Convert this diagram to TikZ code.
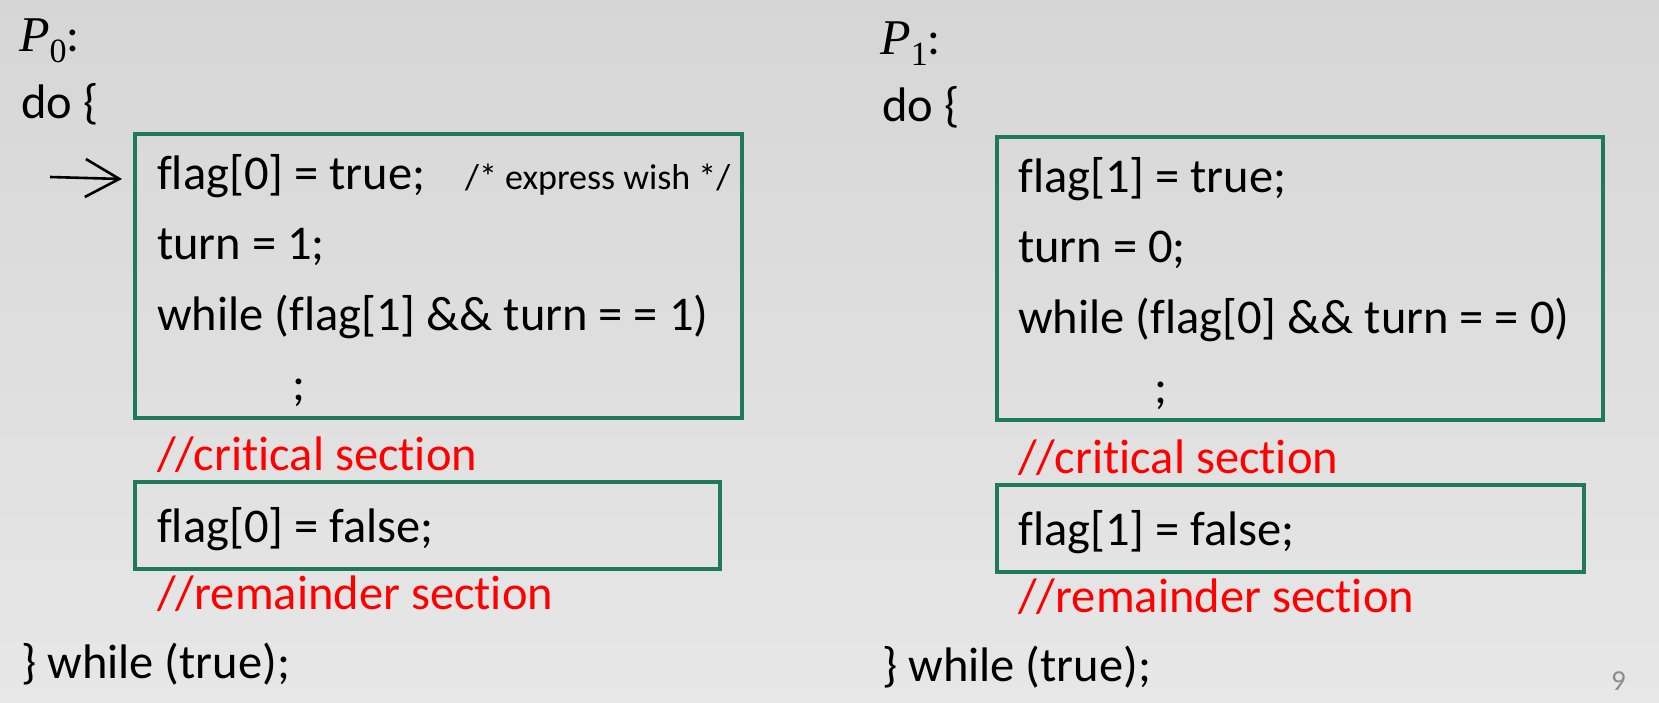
\documentclass[tikz,border=0pt]{standalone}
\usepackage{fontspec}
\setmainfont{Carlito}[Ligatures={NoCommon,NoContextual}]
\newfontfamily\pfont{Liberation Serif}
\usetikzlibrary{arrows.meta}
\definecolor{boxgreen}{RGB}{31,122,92}
\definecolor{bgtop}{RGB}{214,214,214}
\definecolor{bgbot}{RGB}{231,231,231}
\definecolor{pagegray}{RGB}{140,140,140}
\newcommand{\procname}[1]{{\pfont\fontsize{50}{56}\selectfont\itshape P}\raisebox{-11pt}{\pfont\fontsize{34}{40}\selectfont #1}:}
\begin{document}
\begin{tikzpicture}[x=1pt,y=-1pt,
  code/.style={anchor=base west, inner sep=0pt, font=\fontsize{48.5}{56}\selectfont},
  redcode/.style={code, text=red},
  note/.style={anchor=base west, inner sep=0pt, font=\fontsize{36}{40}\selectfont},
  greenbox/.style={draw=boxgreen, line width=3.2pt, inner sep=0pt, outer sep=0pt, anchor=north west},
  pointer/.style={line width=2.6pt, -{Straight Barb[length=34pt,width=38pt]}},
  pagenum/.style={anchor=base west, inner sep=0pt, text=pagegray, font=\fontsize{29}{32}\selectfont}]
\useasboundingbox (0,0) rectangle (1659,703);
\shade[top color=bgtop, bottom color=bgbot] (0,0) rectangle (1659,703);

% ---------- left column: P0 ----------
\node[greenbox, minimum width=607pt, minimum height=284pt] (boxA) at (135,134) {};
\node[greenbox, minimum width=585pt, minimum height=87pt] (boxB) at (135,482) {};
\node[code] (p0) at (19,52) {\procname{0}};
\node[code] (do0) at (21,119) {do \{};
\node[code] (f0) at (157,190) {flag[0] = true;};
\node[note] (wish) at (465,190) {/* express wish */};
\node[code] (t0) at (157,260) {turn = 1;};
\node[code] (w0) at (157,330) {while (flag[1] \&\& turn = = 1)};
\node[code] (s0) at (292,400) {;};
\node[redcode] (cs0) at (157,470) {//critical section};
\node[code] (ff0) at (157,542) {flag[0] = false;};
\node[redcode] (rs0) at (157,609) {//remainder section};
\node[code] (end0) at (21,678) {\} while (true);};
\coordinate (arrS) at (50,177);
\coordinate (arrE) at (122,179);
\draw[pointer] (arrS) -- (arrE);

% ---------- right column: P1 ----------
\node[greenbox, minimum width=606pt, minimum height=283pt] (boxC) at (997,137) {};
\node[greenbox, minimum width=587pt, minimum height=87pt] (boxD) at (997,485) {};
\node[code] (p1) at (880,55) {\procname{1}};
\node[code] (do1) at (882,122) {do \{};
\node[code] (f1) at (1018,193) {flag[1] = true;};
\node[code] (t1) at (1018,263) {turn = 0;};
\node[code] (w1) at (1018,333) {while (flag[0] \&\& turn = = 0)};
\node[code] (s1) at (1154,403) {;};
\node[redcode] (cs1) at (1018,473) {//critical section};
\node[code] (ff1) at (1018,545) {flag[1] = false;};
\node[redcode] (rs1) at (1018,612) {//remainder section};
\node[code] (end1) at (882,681) {\} while (true);};

\node[pagenum] (pg) at (1611,690) {9};
\end{tikzpicture}
\end{document}
